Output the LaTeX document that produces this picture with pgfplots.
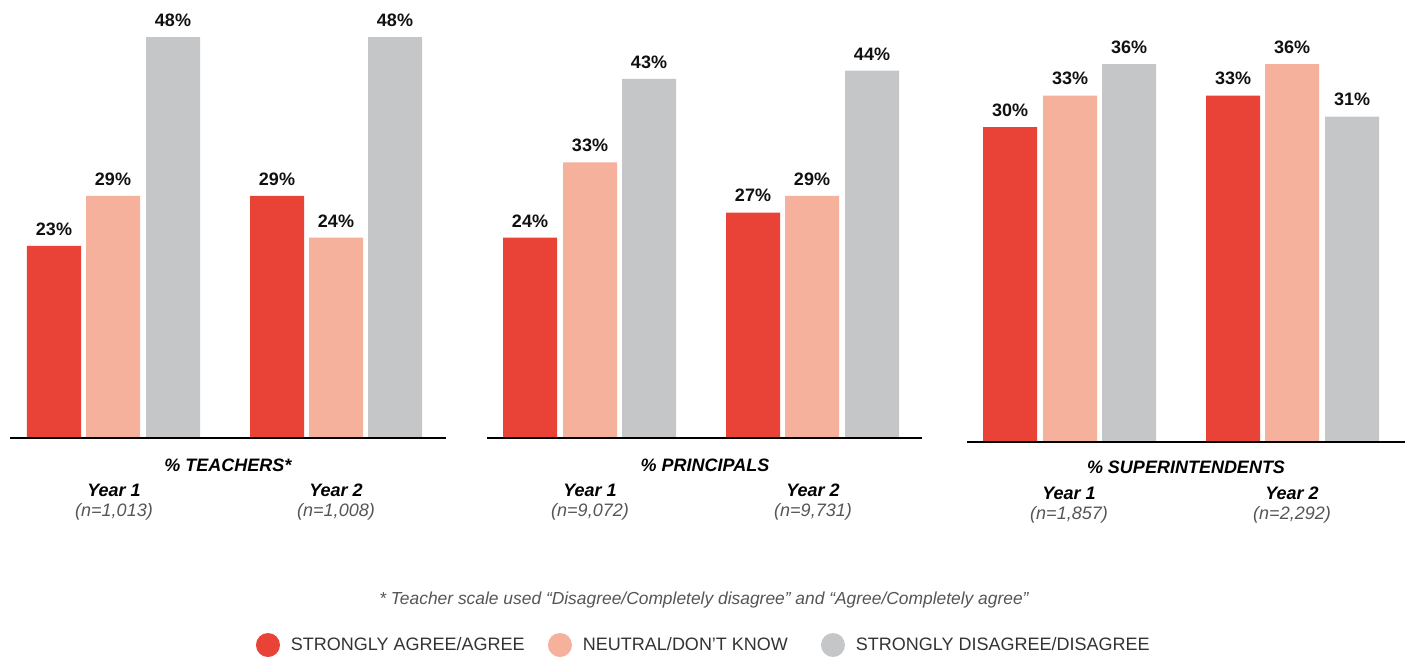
\documentclass[border=0pt]{standalone}
\usepackage{fontspec}
\setmainfont{Liberation Sans}
\usepackage{pgfplots}
\pgfplotsset{compat=1.18}
\definecolor{cRed}{HTML}{E94236}
\definecolor{cSalmon}{HTML}{F5B19B}
\definecolor{cGray}{HTML}{C5C6C8}
\definecolor{txtDark}{HTML}{111111}
\definecolor{txtMid}{HTML}{555555}
\definecolor{txtLeg}{HTML}{333333}
% 1 px of the reference = 0.5pt
\pgfplotsset{
  panel/.style={
    scale only axis, hide axis, clip=false,
    ymin=0, ybar, bar width=27pt,
    /pgf/number format/assume math mode=true,
    nodes near coords={\pgfmathprintnumber{\pgfplotspointmeta}\%},
    every node near coord/.append style={font=\fontsize{9}{10}\selectfont\bfseries,
      text=txtDark, anchor=south, inner sep=0pt, yshift=5pt},
  },
  barR/.style={fill=cRed, draw=none, bar shift=0pt},
  barS/.style={fill=cSalmon, draw=none, bar shift=0pt},
  barG/.style={fill=cGray, draw=none, bar shift=0pt},
}
\newcommand{\ttl}{\fontsize{9}{10}\selectfont\bfseries\itshape}
\newcommand{\nn}{\fontsize{9}{10}\selectfont\itshape\color{txtMid}}
\begin{document}
\begin{tikzpicture}
\path[use as bounding box] (0,0) rectangle (703.5pt,-329pt);

% ---------- Teachers ----------
\begin{axis}[panel, at={(5pt,-219pt)}, anchor=south west,
  width=218pt, height=219pt, xmin=10, xmax=446, ymax=52.45,
  legend columns=3,
  legend style={at={(0.5642,-0.4726)}, anchor=west, draw=none, fill=none,
    inner sep=0pt, outer sep=0pt, column sep=0pt,
    nodes={inner sep=0pt, font=\fontsize{9}{10}\selectfont, text=txtLeg}},
  legend image code/.code={\fill[#1] (6pt,0pt) circle (6pt);},
]
\addplot[barR] coordinates {(54,23) (277,29)};
\addplot[barS] coordinates {(113,29) (336,24)};
\addplot[barG] coordinates {(173,48) (395,48)};
\legend{\makebox[134pt][l]{\hspace{5.5pt}STRONGLY AGREE/AGREE},
        \makebox[124.5pt][l]{\hspace{5.5pt}NEUTRAL/DON'T KNOW},
        \hspace{5.5pt}STRONGLY DISAGREE/DISAGREE}
\draw[line width=1pt, black] (rel axis cs:0,0) -- (rel axis cs:1,0);
\node[font=\ttl] at ([yshift=-13.5pt]axis cs:228,0) {\% TEACHERS*};
\node[font=\ttl] at ([yshift=-26pt]axis cs:114,0) {Year 1};
\node[font=\ttl] at ([yshift=-26pt]axis cs:336,0) {Year 2};
\node at ([yshift=-37pt]axis cs:114,0) {\nn (n=1,013)};
\node at ([yshift=-37pt]axis cs:336,0) {\nn (n=1,008)};
\end{axis}

% ---------- Principals ----------
\begin{axis}[panel, at={(243.5pt,-219pt)}, anchor=south west,
  width=217.5pt, height=219pt, xmin=487, xmax=922, ymax=52.45]
\addplot[barR] coordinates {(530,24) (753,27)};
\addplot[barS] coordinates {(590,33) (812,29)};
\addplot[barG] coordinates {(649,43) (872,44)};
\draw[line width=1pt, black] (rel axis cs:0,0) -- (rel axis cs:1,0);
\node[font=\ttl] at ([yshift=-13.5pt]axis cs:705,0) {\% PRINCIPALS};
\node[font=\ttl] at ([yshift=-26pt]axis cs:590,0) {Year 1};
\node[font=\ttl] at ([yshift=-26pt]axis cs:813,0) {Year 2};
\node at ([yshift=-37pt]axis cs:590,0) {\nn (n=9,072)};
\node at ([yshift=-37pt]axis cs:813,0) {\nn (n=9,731)};
\node[font=\fontsize{8.7}{10}\selectfont\itshape, text=txtMid]
  at ([yshift=-81pt]axis cs:704,0)
  {* Teacher scale used “Disagree/Completely disagree” and “Agree/Completely agree”};
\end{axis}

% ---------- Superintendents ----------
\begin{axis}[panel, at={(483.5pt,-221pt)}, anchor=south west,
  width=219pt, height=221pt, xmin=967, xmax=1405, ymax=42.1]
\addplot[barR] coordinates {(1010,30) (1233,33)};
\addplot[barS] coordinates {(1070,33) (1292,36)};
\addplot[barG] coordinates {(1129,36) (1352,31)};
\draw[line width=1pt, black] (rel axis cs:0,0) -- (rel axis cs:1,0);
\node[font=\ttl] at ([yshift=-12.5pt]axis cs:1186,0) {\% SUPERINTENDENTS};
\node[font=\ttl] at ([yshift=-25.5pt]axis cs:1069,0) {Year 1};
\node[font=\ttl] at ([yshift=-25.5pt]axis cs:1292,0) {Year 2};
\node at ([yshift=-36.5pt]axis cs:1069,0) {\nn (n=1,857)};
\node at ([yshift=-36.5pt]axis cs:1292,0) {\nn (n=2,292)};
\end{axis}
\end{tikzpicture}
\end{document}
